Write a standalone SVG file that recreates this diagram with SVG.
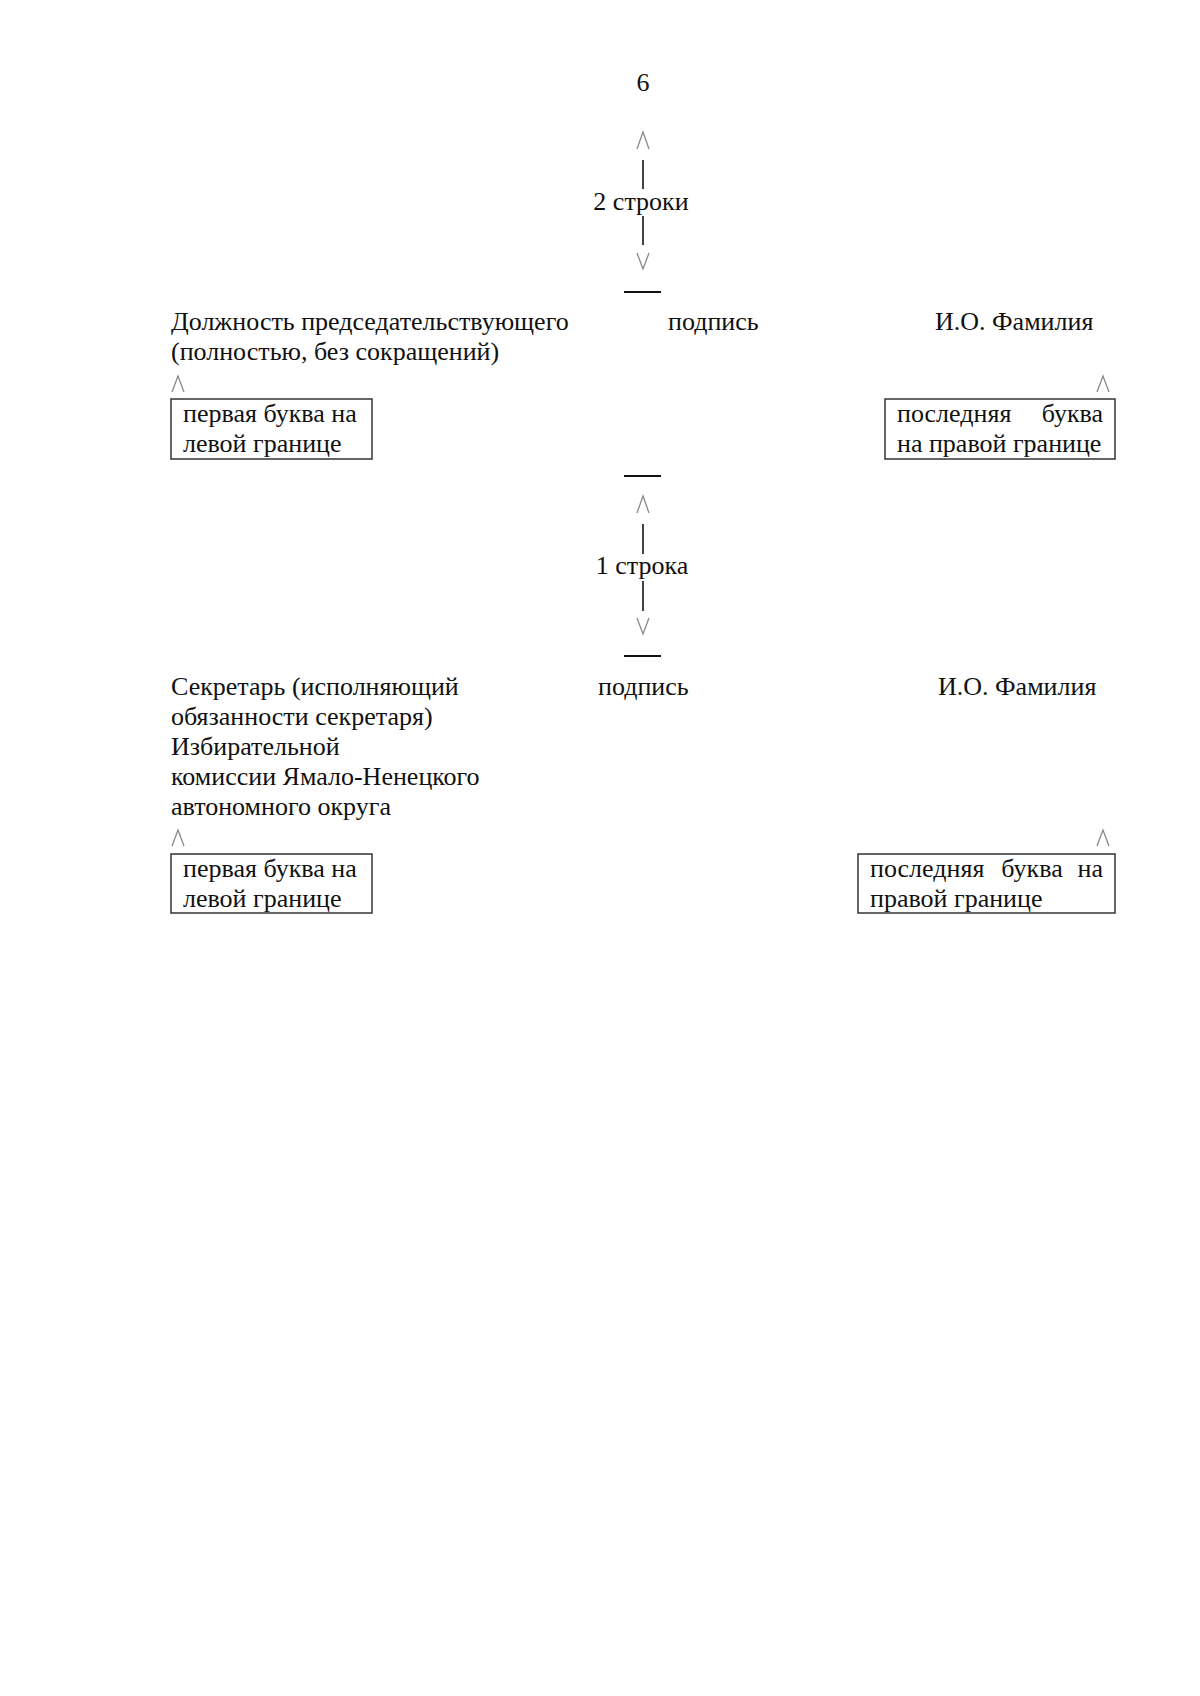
<svg xmlns="http://www.w3.org/2000/svg" width="1200" height="1696" viewBox="0 0 1200 1696">
<style>
text{font-family:"Liberation Serif","Times New Roman",serif;font-size:26px;fill:#111}
.mid{text-anchor:middle}
.end{text-anchor:end}
.caret{fill:none;stroke:#888;stroke-width:1.3}
.vline{stroke:#111;stroke-width:1.6}
.bar{stroke:#111;stroke-width:2.2}
.box{fill:none;stroke:#333;stroke-width:1.5}
</style>
<rect width="1200" height="1696" fill="#fff"/>
<text x="643" y="91" class="mid">6</text>

<g id="connectors">
  <polyline class="caret" points="637,149 643,132 649,149"/>
  <line class="vline" x1="643" y1="160" x2="643" y2="189"/>
  <line class="vline" x1="643" y1="216" x2="643" y2="245"/>
  <polyline class="caret" points="637,253 643,269 649,253"/>
  <line class="bar" x1="624" y1="292" x2="661" y2="292"/>

  <line class="bar" x1="624" y1="476" x2="661" y2="476"/>
  <polyline class="caret" points="637,513 643,496 649,513"/>
  <line class="vline" x1="643" y1="524" x2="643" y2="554"/>
  <line class="vline" x1="643" y1="581" x2="643" y2="611"/>
  <polyline class="caret" points="637,618 643,634 649,618"/>
  <line class="bar" x1="624" y1="656" x2="661" y2="656"/>

  <polyline class="caret" points="172,392 178,376 184,392"/>
  <polyline class="caret" points="1097,392 1103,376 1109,392"/>
  <polyline class="caret" points="172,846 178,830 184,846"/>
  <polyline class="caret" points="1097,846 1103,830 1109,846"/>
</g>

<g id="gap2"><text x="641" y="210" class="mid">2 строки</text></g>
<g id="gap1"><text x="642" y="574" class="mid">1 строка</text></g>

<g id="chair-title">
  <text x="171" y="330">Должность председательствующего</text>
  <text x="171" y="360">(полностью, без сокращений)</text>
</g>
<g id="chair-sign"><text x="668" y="330">подпись</text></g>
<g id="chair-name"><text x="935" y="330">И.О. Фамилия</text></g>

<g id="chair-left-box">
  <rect class="box" x="171" y="399" width="201" height="60"/>
  <text x="183" y="422">первая буква на</text>
  <text x="183" y="452">левой границе</text>
</g>
<g id="chair-right-box">
  <rect class="box" x="885" y="399" width="230" height="60"/>
  <text x="897" y="422">последняя</text>
  <text x="1103" y="422" class="end">буква</text>
  <text x="897" y="452">на правой границе</text>
</g>

<g id="secretary-title">
  <text x="171" y="695">Секретарь (исполняющий</text>
  <text x="171" y="725">обязанности секретаря)</text>
  <text x="171" y="755">Избирательной</text>
  <text x="171" y="785">комиссии Ямало-Ненецкого</text>
  <text x="171" y="815">автономного округа</text>
</g>
<g id="secretary-sign"><text x="598" y="695">подпись</text></g>
<g id="secretary-name"><text x="938" y="695">И.О. Фамилия</text></g>

<g id="secretary-left-box">
  <rect class="box" x="171" y="854" width="201" height="59"/>
  <text x="183" y="877">первая буква на</text>
  <text x="183" y="907">левой границе</text>
</g>
<g id="secretary-right-box">
  <rect class="box" x="858" y="854" width="257" height="59"/>
  <text x="870" y="877">последняя</text>
  <text x="1032" y="877" class="mid">буква</text>
  <text x="1103" y="877" class="end">на</text>
  <text x="870" y="907">правой границе</text>
</g>
</svg>
